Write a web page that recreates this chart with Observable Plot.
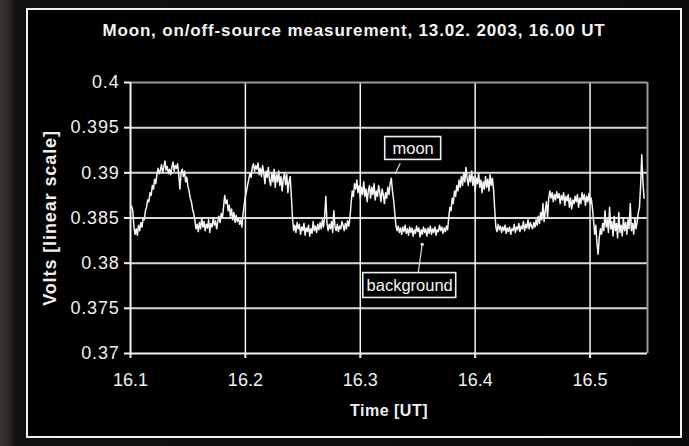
<!DOCTYPE html>
<html>
<head>
<meta charset="utf-8">
<script src="https://cdn.jsdelivr.net/npm/d3@7"></script>
<script src="https://cdn.jsdelivr.net/npm/@observablehq/plot@0.6"></script>
<style>
  html, body { margin: 0; padding: 0; }
  body {
    width: 689px; height: 446px; overflow: hidden; position: relative;
    background: linear-gradient(to right, #3a332c 0px, #2b2520 10px, #111 15px, #0a0a0a 100%);
    font-family: "Liberation Sans", Arial, sans-serif;
  }
  #frame {
    position: absolute; left: 26px; top: 8px; width: 652px; height: 426px;
    border: 2px solid #f2f2f2; background: #000; box-sizing: content-box;
  }
  #title {
    position: absolute; left: 26px; width: 656px; top: 21px; text-align: center;
    color: #f4f4f4; font-weight: bold; font-size: 17px; letter-spacing: 0.85px;
  }
  #chart { position: absolute; left: 0; top: 0; }
</style>
</head>
<body>
<div id="frame"></div>
<div id="title">Moon, on/off-source measurement, 13.02. 2003, 16.00 UT</div>
<div id="chart"></div>
<script>
// Sampling: one reading every 0.001 h starting at 16.101 UT
const startTime = 16.101;
const stepTime = 0.001;
// Volts, 10 readings per line (0.01 h)
const volts = [
  0.3863,0.3858,0.3840,0.3832,0.3838,0.3831,0.3842,0.3836,0.3845,0.3840,
  0.3850,0.3848,0.3858,0.3862,0.3870,0.3868,0.3878,0.3875,0.3886,0.3882,
  0.3893,0.3888,0.3898,0.3905,0.3899,0.3903,0.3909,0.3900,0.3906,0.3913,
  0.3903,0.3907,0.3899,0.3904,0.3898,0.3906,0.3912,0.3902,0.3908,0.3905,
  0.3910,0.3898,0.3882,0.3900,0.3904,0.3896,0.3902,0.3890,0.3895,0.3885,
  0.3880,0.3872,0.3868,0.3860,0.3855,0.3848,0.3838,0.3843,0.3835,0.3845,
  0.3838,0.3850,0.3840,0.3846,0.3836,0.3843,0.3839,0.3848,0.3834,0.3844,
  0.3840,0.3850,0.3842,0.3847,0.3838,0.3846,0.3852,0.3845,0.3855,0.3850,
  0.3862,0.3875,0.3866,0.3870,0.3858,0.3864,0.3852,0.3860,0.3848,0.3856,
  0.3845,0.3853,0.3846,0.3850,0.3843,0.3848,0.3840,0.3855,0.3865,0.3874,
  0.3880,0.3887,0.3893,0.3900,0.3895,0.3906,0.3910,0.3902,0.3908,0.3904,
  0.3911,0.3898,0.3905,0.3896,0.3908,0.3900,0.3888,0.3902,0.3895,0.3906,
  0.3892,0.3886,0.3900,0.3890,0.3904,0.3884,0.3898,0.3890,0.3902,0.3886,
  0.3896,0.3880,0.3893,0.3900,0.3887,0.3898,0.3878,0.3890,0.3896,0.3874,
  0.3850,0.3836,0.3842,0.3834,0.3845,0.3838,0.3843,0.3832,0.3840,0.3836,
  0.3844,0.3831,0.3839,0.3835,0.3842,0.3830,0.3838,0.3833,0.3846,0.3836,
  0.3841,0.3834,0.3843,0.3837,0.3845,0.3838,0.3848,0.3840,0.3852,0.3874,
  0.3845,0.3836,0.3843,0.3838,0.3846,0.3834,0.3858,0.3840,0.3836,0.3843,
  0.3835,0.3841,0.3838,0.3846,0.3842,0.3836,0.3844,0.3838,0.3847,0.3841,
  0.3850,0.3866,0.3880,0.3874,0.3888,0.3882,0.3892,0.3878,0.3886,0.3872,
  0.3884,0.3876,0.3890,0.3874,0.3882,0.3868,0.3880,0.3886,0.3872,0.3884,
  0.3876,0.3888,0.3870,0.3880,0.3874,0.3886,0.3878,0.3868,0.3882,0.3876,
  0.3866,0.3878,0.3872,0.3884,0.3876,0.3888,0.3894,0.3880,0.3870,0.3856,
  0.3842,0.3836,0.3841,0.3834,0.3839,0.3832,0.3840,0.3835,0.3842,0.3833,
  0.3838,0.3831,0.3840,0.3834,0.3839,0.3830,0.3837,0.3833,0.3841,0.3835,
  0.3839,0.3829,0.3837,0.3832,0.3840,0.3834,0.3838,0.3830,0.3839,0.3833,
  0.3841,0.3832,0.3838,0.3834,0.3840,0.3831,0.3837,0.3835,0.3842,0.3836,
  0.3840,0.3833,0.3839,0.3835,0.3841,0.3837,0.3850,0.3862,0.3858,0.3872,
  0.3866,0.3880,0.3874,0.3886,0.3880,0.3892,0.3884,0.3896,0.3886,0.3900,
  0.3890,0.3906,0.3894,0.3886,0.3898,0.3890,0.3902,0.3886,0.3896,0.3880,
  0.3894,0.3888,0.3900,0.3884,0.3892,0.3878,0.3890,0.3882,0.3896,0.3884,
  0.3893,0.3880,0.3898,0.3886,0.3894,0.3882,0.3860,0.3840,0.3835,0.3843,
  0.3837,0.3841,0.3834,0.3840,0.3836,0.3842,0.3833,0.3839,0.3835,0.3840,
  0.3832,0.3838,0.3836,0.3843,0.3834,0.3840,0.3837,0.3844,0.3835,0.3841,
  0.3838,0.3846,0.3836,0.3843,0.3839,0.3848,0.3838,0.3845,0.3841,0.3838,
  0.3845,0.3840,0.3848,0.3842,0.3852,0.3844,0.3856,0.3848,0.3866,0.3846,
  0.3858,0.3868,0.3850,0.3872,0.3880,0.3872,0.3878,0.3868,0.3876,0.3870,
  0.3879,0.3872,0.3877,0.3866,0.3875,0.3870,0.3878,0.3864,0.3874,0.3869,
  0.3876,0.3862,0.3872,0.3860,0.3870,0.3866,0.3874,0.3868,0.3876,0.3862,
  0.3872,0.3866,0.3878,0.3870,0.3876,0.3864,0.3874,0.3868,0.3877,0.3866,
  0.3872,0.3862,0.3848,0.3832,0.3842,0.3822,0.3810,0.3828,0.3838,0.3832,
  0.3844,0.3836,0.3858,0.3840,0.3848,0.3834,0.3862,0.3838,0.3846,0.3830,
  0.3852,0.3836,0.3844,0.3828,0.3856,0.3834,0.3842,0.3830,0.3850,0.3836,
  0.3845,0.3832,0.3848,0.3838,0.3866,0.3836,0.3844,0.3832,0.3850,0.3838,
  0.3846,0.3856,0.3862,0.3885,0.3920,0.3890,0.3872
];
const xTicks = [16.1, 16.2, 16.3, 16.4, 16.5];
const yTicks = [0.37, 0.375, 0.38, 0.385, 0.39, 0.395, 0.4];
const xDomain = [16.1, 16.55];
const yDomain = [0.37, 0.4];

// Annotation boxes (label, centre, box extents) and pointer lines
const labels = ["moon", "background"];
const labelT = [16.346, 16.343];
const labelV = [0.39270, 0.37752];
const boxT1 = [16.3217, 16.3026];
const boxT2 = [16.3704, 16.3835];
const boxV1 = [0.39143, 0.37615];
const boxV2 = [0.39396, 0.37890];
const pointerT1 = [16.3348, 16.3504];
const pointerV1 = [0.39105, 0.37890];
const pointerT2 = [16.3304, 16.3539];
const pointerV2 = [0.38990, 0.38209];

const series = volts.map((v, i) => ({t: startTime + i * stepTime, v}));
const boxes = labels.map((label, i) => ({
  label, t: labelT[i], v: labelV[i],
  t1: boxT1[i], t2: boxT2[i], v1: boxV1[i], v2: boxV2[i],
  pt1: pointerT1[i], pv1: pointerV1[i], pt2: pointerT2[i], pv2: pointerV2[i]
}));

const fmtY = d => d === 0.4 ? "0.4" : d === 0.39 ? "0.39" : d === 0.38 ? "0.38" : d === 0.37 ? "0.37" : d.toFixed(3);

const chart = Plot.plot({
  width: 689,
  height: 446,
  marginLeft: 130,
  marginRight: 42,
  marginTop: 82,
  marginBottom: 93,
  style: {background: "transparent", color: "#f0f0f0", fontFamily: "'Liberation Sans', Arial, sans-serif", fontSize: "16px"},
  x: {domain: xDomain, ticks: xTicks},
  y: {domain: yDomain, ticks: yTicks},
  marks: [
    Plot.gridY(yTicks.filter(d => d > 0.37 && d < 0.4), {stroke: "#d8d8d8", strokeOpacity: 1, strokeWidth: 2}),
    Plot.gridX(xTicks.filter(d => d > 16.1), {stroke: "#f4f4f4", strokeOpacity: 1, strokeWidth: 1.5}),
    Plot.ruleY([0.4], {stroke: "#9a9a9a", strokeWidth: 2}),
    Plot.ruleX([16.55], {stroke: "#9a9a9a", strokeWidth: 2}),
    Plot.ruleY([0.37], {stroke: "#f4f4f4", strokeWidth: 2}),
    Plot.ruleX([16.1], {stroke: "#f4f4f4", strokeWidth: 2}),
    Plot.line(series, {x: "t", y: "v", stroke: "#f4f4f4", strokeWidth: 1.5}),
    Plot.link(boxes, {x1: "pt1", y1: "pv1", x2: "pt2", y2: "pv2", stroke: "#e0e0e0", strokeWidth: 1.2}),
    Plot.dot(boxes.filter(d => d.label === "background"), {x: "pt2", y: "pv2", r: 1.6, fill: "#f4f4f4", stroke: "none"}),
    Plot.rect(boxes, {x1: "t1", x2: "t2", y1: "v1", y2: "v2", fill: "#000", stroke: "#f0f0f0", strokeWidth: 1.6}),
    Plot.text(boxes, {x: "t", y: "v", text: "label", fill: "#f4f4f4", fontSize: 16.5}),
    Plot.axisY(yTicks, {tickSize: 6, tickPadding: 5, tickFormat: fmtY, fontSize: 18, stroke: "#f0f0f0", strokeWidth: 2,
      label: "Volts [linear scale]", labelAnchor: "center", labelArrow: "none", labelOffset: 87}),
    Plot.axisX(xTicks, {tickSize: 5, tickPadding: 15, tickFormat: d => d.toFixed(1), fontSize: 18, stroke: "#f0f0f0", strokeWidth: 2,
      label: "Time [UT]", labelAnchor: "center", labelArrow: "none", labelOffset: 62})
  ]
});
document.getElementById("chart").appendChild(chart);
// reference tick labels are slightly spread
chart.querySelectorAll("g[aria-label='y-axis tick label'] text").forEach(t => t.setAttribute("letter-spacing", "0.8"));
// axis titles are bold in the reference
chart.querySelectorAll("g[aria-label='y-axis label'] text").forEach(t => {
  t.setAttribute("font-weight", "bold");
  t.setAttribute("font-size", "18");
  t.setAttribute("letter-spacing", "0.9");
});
chart.querySelectorAll("g[aria-label='x-axis label'] text").forEach(t => {
  t.setAttribute("font-weight", "bold");
  t.setAttribute("font-size", "16");
  t.setAttribute("letter-spacing", "0.5");
});
</script>
</body>
</html>
